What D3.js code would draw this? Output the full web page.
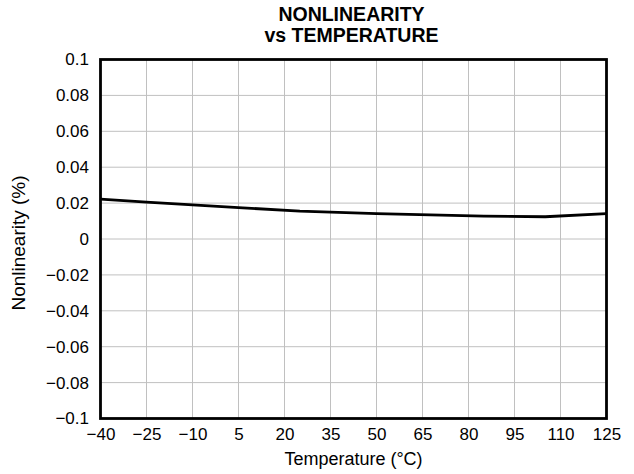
<!DOCTYPE html>
<html>
<head>
<meta charset="utf-8">
<script src="https://cdn.jsdelivr.net/npm/d3@7"></script>
<style>
  body { margin: 0; background: #fff; }
  svg { display: block; font-family: "Liberation Sans", Arial, sans-serif; }
</style>
</head>
<body>
<svg id="chart" width="634" height="474"></svg>
<script>
const temperature = [-40, -25, -10, 5, 25, 50, 85, 105, 125];
const nonlinearity = [0.0222, 0.0206, 0.0190, 0.0175, 0.0155, 0.0141, 0.0127, 0.0124, 0.0141];
const xTicks = [-40, -25, -10, 5, 20, 35, 50, 65, 80, 95, 110, 125];
const yTicks = [0.1, 0.08, 0.06, 0.04, 0.02, 0, -0.02, -0.04, -0.06, -0.08, -0.1];
const titleLines = ["NONLINEARITY", "vs TEMPERATURE"];
const xLabel = "Temperature (°C)";
const yLabel = "Nonlinearity (%)";

const svg = d3.select("#chart");
const m = { left: 100.5, right: 606.5, top: 59.5, bottom: 418.5 };
const x = d3.scaleLinear().domain([-40, 125]).range([m.left, m.right]);
const y = d3.scaleLinear().domain([-0.1, 0.1]).range([m.bottom, m.top]);

const fmt = v => {
  if (v === 0) return "0";
  const s = String(Math.abs(+v.toFixed(2)));
  return (v < 0 ? "\u2212" : "") + s;
};

// grid
const grid = svg.append("g").attr("stroke", "#c0c0c0").attr("stroke-width", 1);
xTicks.slice(1, -1).forEach(t => {
  grid.append("line").attr("x1", x(t)).attr("x2", x(t)).attr("y1", m.top).attr("y2", m.bottom);
});
yTicks.slice(1, -1).forEach(t => {
  grid.append("line").attr("x1", m.left).attr("x2", m.right).attr("y1", y(t)).attr("y2", y(t));
});

// axes (labels only)
const xAxis = d3.axisBottom(x).tickValues(xTicks).tickFormat(fmt).tickSize(0).tickPadding(9);
const gx = svg.append("g").attr("transform", `translate(0,${m.bottom})`).call(xAxis);
gx.select(".domain").remove();
gx.selectAll("text").attr("font-size", 17).attr("fill", "#000").attr("font-family", "Liberation Sans, Arial, sans-serif");

const yAxis = d3.axisLeft(y).tickValues(yTicks).tickFormat(fmt).tickSize(0).tickPadding(11.5);
const gy = svg.append("g").attr("transform", `translate(${m.left},0)`).call(yAxis);
gy.select(".domain").remove();
gy.selectAll("text").attr("font-size", 17).attr("fill", "#000").attr("font-family", "Liberation Sans, Arial, sans-serif");

// line
const line = d3.line().x((d, i) => x(temperature[i])).y(d => y(d));
svg.append("path").datum(nonlinearity)
  .attr("d", line).attr("fill", "none").attr("stroke", "#000").attr("stroke-width", 2.8);

// frame
svg.append("rect").attr("x", m.left).attr("y", m.top)
  .attr("width", m.right - m.left).attr("height", m.bottom - m.top)
  .attr("fill", "none").attr("stroke", "#000").attr("stroke-width", 2.8);

// title
const cx = (m.left + m.right) / 2 - 2;
svg.append("text").attr("x", cx).attr("y", 21).attr("text-anchor", "middle")
  .attr("font-size", 19.5).attr("font-weight", "bold").text(titleLines[0]);
svg.append("text").attr("x", cx).attr("y", 42).attr("text-anchor", "middle")
  .attr("font-size", 19.5).attr("font-weight", "bold").text(titleLines[1]);

// axis titles
svg.append("text").attr("x", (m.left + m.right) / 2).attr("y", 465).attr("text-anchor", "middle")
  .attr("font-size", 18).text(xLabel);
svg.append("text").attr("transform", `translate(25,243) rotate(-90)`)
  .attr("text-anchor", "middle").attr("font-size", 19).text(yLabel);
</script>
</body>
</html>
